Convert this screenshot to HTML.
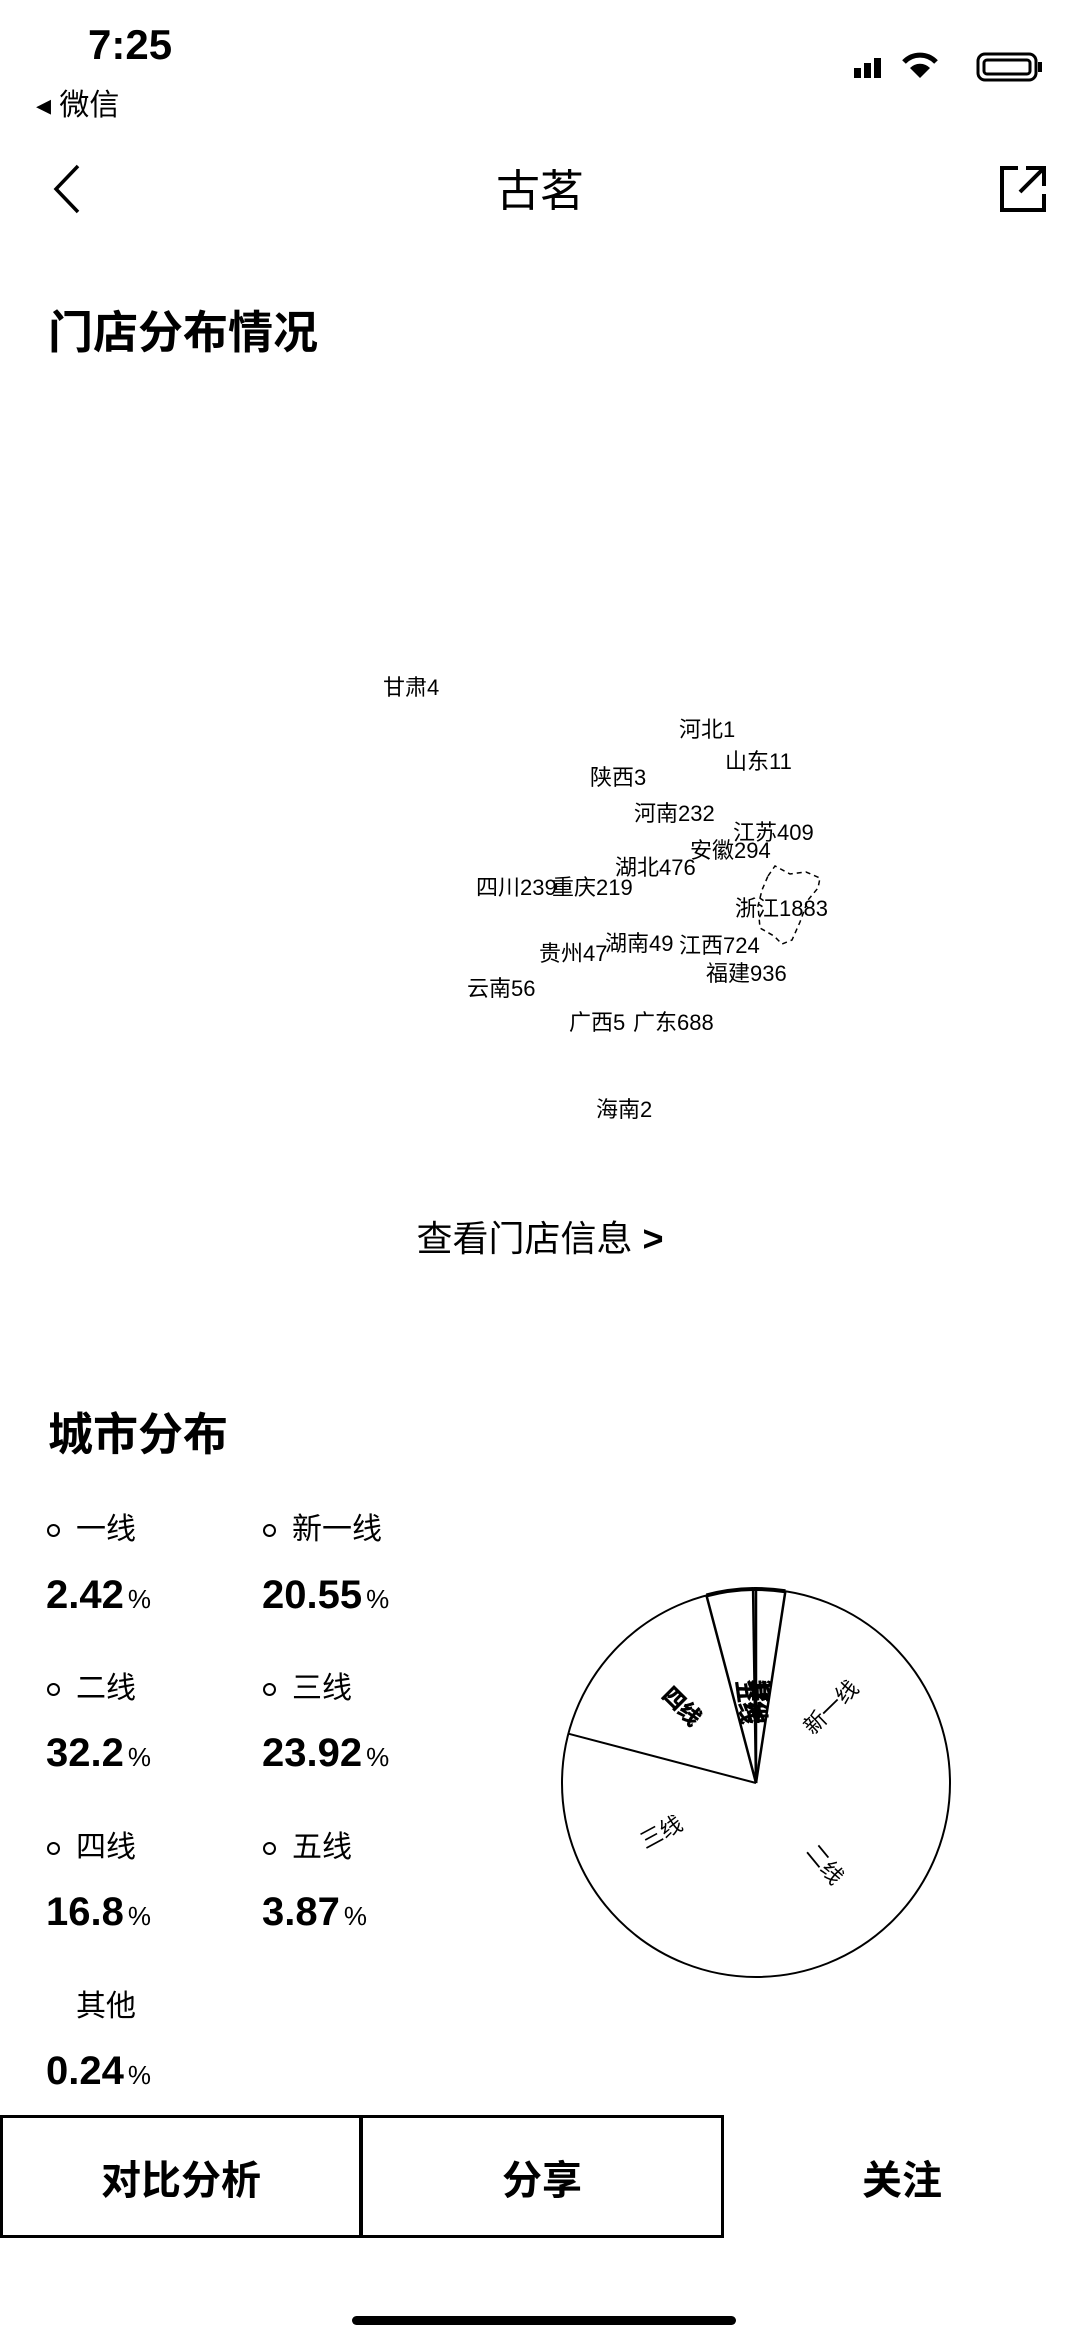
<!DOCTYPE html>
<html><head><meta charset="utf-8">
<style>
html,body{margin:0;padding:0;background:#fff;}
body{width:1080px;height:2338px;position:relative;overflow:hidden;font-family:"Liberation Sans","Noto Sans CJK SC",sans-serif;color:#000;}
.abs{position:absolute;white-space:nowrap;}
.ml{position:absolute;font-size:22px;line-height:22px;transform:translateY(-50%);white-space:nowrap;}
.lab{position:absolute;font-size:30px;line-height:30px;}
.val{position:absolute;font-size:40px;line-height:40px;font-weight:bold;}
.val small{font-size:26px;font-weight:normal;margin-left:4px;}
.dot{position:absolute;width:9px;height:9px;border:2px solid #000;border-radius:50%;}
.btn{position:absolute;top:2115px;height:123px;display:flex;align-items:center;justify-content:center;font-size:40px;font-weight:bold;box-sizing:border-box;}
</style></head>
<body>
<div class="abs" style="left:88px;top:21px;font-size:42px;font-weight:bold;">7:25</div>
<div class="abs" style="left:36px;top:80px;font-size:30px;">◂ 微信</div>
<svg class="abs" style="left:850px;top:46px" width="200" height="40">
 <rect x="4" y="22" width="7" height="10" fill="#000"/><rect x="14" y="17" width="7" height="15" fill="#000"/><rect x="24" y="12" width="7" height="20" fill="#000"/>
 <path d="M70 32 L60 22 A14 14 0 0 1 80 22 Z" fill="#000"/><path d="M54 16 A22 22 0 0 1 86 16" stroke="#000" stroke-width="5" fill="none"/>
 <rect x="128" y="8" width="58" height="26" rx="7" stroke="#000" stroke-width="3" fill="none"/><rect x="134" y="14" width="46" height="14" rx="3" stroke="#000" stroke-width="3" fill="none"/><rect x="188" y="16" width="4" height="10" fill="#000"/>
</svg>
<svg class="abs" style="left:48px;top:162px" width="40" height="54"><path d="M30 4 L8 27 L30 50" stroke="#000" stroke-width="3.5" fill="none"/></svg>
<div class="abs" style="left:0;width:1080px;text-align:center;top:155px;font-size:44px;">古茗</div>
<svg class="abs" style="left:996px;top:162px" width="54" height="54"><path d="M22 6 H6 V48 H48 V32" stroke="#000" stroke-width="4" fill="none"/><path d="M24 30 L46 8 M30 6 H48 V24" stroke="#000" stroke-width="4" fill="none"/></svg>

<div class="abs" style="left:48px;top:296px;font-size:45px;font-weight:bold;">门店分布情况</div>

<div>
<svg class="abs" style="left:0;top:0" width="1080" height="1200"><path d="M768 876 L775 866 L790 874 L806 872 L820 878 L818 888 L808 900 L800 922 L792 940 L782 944 L774 936 L760 928 L758 906 L762 890 Z" stroke="#000" stroke-width="1.5" stroke-dasharray="5 4" fill="none"/></svg>
<div class="ml" style="left:383px;top:688px">甘肃4</div>
<div class="ml" style="left:679px;top:730px">河北1</div>
<div class="ml" style="left:725px;top:762px">山东11</div>
<div class="ml" style="left:590px;top:778px">陕西3</div>
<div class="ml" style="left:634px;top:814px">河南232</div>
<div class="ml" style="left:733px;top:833px">江苏409</div>
<div class="ml" style="left:690px;top:851px">安徽294</div>
<div class="ml" style="left:615px;top:868px">湖北476</div>
<div class="ml" style="left:476px;top:888px">四川239</div>
<div class="ml" style="left:552px;top:888px">重庆219</div>
<div class="ml" style="left:735px;top:909px">浙江1883</div>
<div class="ml" style="left:605px;top:944px">湖南49</div>
<div class="ml" style="left:679px;top:946px">江西724</div>
<div class="ml" style="left:539px;top:954px">贵州47</div>
<div class="ml" style="left:706px;top:974px">福建936</div>
<div class="ml" style="left:467px;top:989px">云南56</div>
<div class="ml" style="left:569px;top:1023px">广西5</div>
<div class="ml" style="left:633px;top:1023px">广东688</div>
<div class="ml" style="left:596px;top:1110px">海南2</div>
</div>

<div class="abs" style="left:0;width:1080px;text-align:center;top:1210px;font-size:36px;">查看门店信息 <span style="font-weight:bold">&gt;</span></div>

<div class="abs" style="left:48px;top:1398px;font-size:45px;font-weight:bold;">城市分布</div>

<div>
<div class="dot" style="left:47px;top:1524px"></div>
<div class="lab" style="left:76px;top:1515px">一线</div>
<div class="val" style="left:46px;top:1575px">2.42<small>%</small></div>
<div class="dot" style="left:263px;top:1524px"></div>
<div class="lab" style="left:292px;top:1515px">新一线</div>
<div class="val" style="left:262px;top:1575px">20.55<small>%</small></div>
<div class="dot" style="left:47px;top:1683px"></div>
<div class="lab" style="left:76px;top:1674px">二线</div>
<div class="val" style="left:46px;top:1733px">32.2<small>%</small></div>
<div class="dot" style="left:263px;top:1683px"></div>
<div class="lab" style="left:292px;top:1674px">三线</div>
<div class="val" style="left:262px;top:1733px">23.92<small>%</small></div>
<div class="dot" style="left:47px;top:1842px"></div>
<div class="lab" style="left:76px;top:1833px">四线</div>
<div class="val" style="left:46px;top:1892px">16.8<small>%</small></div>
<div class="dot" style="left:263px;top:1842px"></div>
<div class="lab" style="left:292px;top:1833px">五线</div>
<div class="val" style="left:262px;top:1892px">3.87<small>%</small></div>
<div class="lab" style="left:76px;top:1992px">其他</div>
<div class="val" style="left:46px;top:2051px">0.24<small>%</small></div>
</div>

<svg id="pie" class="abs" style="left:540px;top:1560px" width="440" height="450"></svg>

<div class="btn" style="left:0;width:362px;border:3px solid #000;">对比分析</div>
<div class="btn" style="left:360px;width:364px;border:3px solid #000;">分享</div>
<div class="btn" style="left:724px;width:356px;">关注</div>
<div class="abs" style="left:352px;top:2316px;width:384px;height:9px;border-radius:5px;background:#000;"></div>

<script>
const categories = ["一线","新一线","二线","三线","四线","五线","其他"];
const shares = [2.42,20.55,32.2,23.92,16.8,3.87,0.24];
const NS="http://www.w3.org/2000/svg";
const svg=document.getElementById('pie');
const cx=216, cy=223, r=194;
const total=shares.reduce((a,b)=>a+b,0);
function angleOf(v){return v/total*2*Math.PI;}
function pt(a,rad){return [cx+rad*Math.sin(a), cy-rad*Math.cos(a)];}
const circle=document.createElementNS(NS,'circle');
circle.setAttribute('cx',cx);circle.setAttribute('cy',cy);circle.setAttribute('r',r);
circle.setAttribute('fill','#fff');circle.setAttribute('stroke','#000');circle.setAttribute('stroke-width','2');


svg.appendChild(circle);
let start=0;
shares.forEach((v,i)=>{
  const a0=start, a1=start+angleOf(v); start=a1;
  const big = v>10;
  const prevBig = shares[(i+shares.length-1)%shares.length]>10;
  if(!(big && prevBig && i!==4)){
    const p0=pt(a0,r);
    const ln=document.createElementNS(NS,'line');
    ln.setAttribute('x1',cx);ln.setAttribute('y1',cy);ln.setAttribute('x2',p0[0]);ln.setAttribute('y2',p0[1]);
    ln.setAttribute('stroke','#000');
    ln.setAttribute('stroke-width', big&&prevBig ? '2' : '2.5');
    
    
    svg.appendChild(ln);
  }
  if(!big){
    const p0=pt(a0,r), p1=pt(a1,r);
    const arc=document.createElementNS(NS,'path');
    arc.setAttribute('d',`M${p0[0]} ${p0[1]} A${r} ${r} 0 0 1 ${p1[0]} ${p1[1]}`);
    arc.setAttribute('stroke','#000');arc.setAttribute('stroke-width','4');arc.setAttribute('fill','none');
    
    
    svg.appendChild(arc);
  }
  const mid=(a0+a1)/2;
  const lr = v<5 ? r*0.42 : r*0.55;
  const lp=pt(mid,lr);
  const t=document.createElementNS(NS,'text');
  t.setAttribute('x',lp[0]); t.setAttribute('y',lp[1]);
  t.setAttribute('text-anchor','middle'); t.setAttribute('dominant-baseline','middle');
  t.setAttribute('font-size','22');
  t.setAttribute('font-family','"Liberation Sans","Noto Sans CJK SC",sans-serif');
  if(v<5||i===4){t.setAttribute('font-weight','bold');t.setAttribute('stroke','#000');t.setAttribute('stroke-width','0.6');}
  let deg=mid*180/Math.PI-90; if(deg>90)deg-=180; if(deg<-90)deg+=180;
  t.setAttribute('transform',`rotate(${deg} ${lp[0]} ${lp[1]})`);
  t.textContent=categories[i];
  
  
  svg.appendChild(t);
});
</script>
</body></html>
